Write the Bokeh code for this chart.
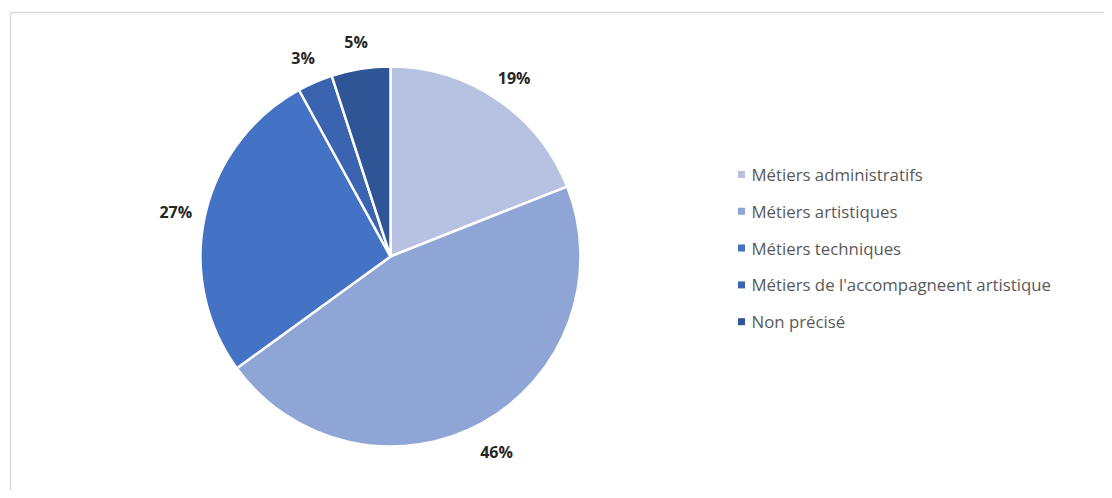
import math
from bokeh.plotting import figure
from bokeh.models import ColumnDataSource
from bokeh.core.properties import value
from bokeh.embed import file_html
from bokeh.resources import INLINE

categories = ["Métiers administratifs", "Métiers artistiques", "Métiers techniques",
              "Métiers de l'accompagneent artistique", "Non précisé"]
percents = [19, 46, 27, 3, 5]
colors = ["#B7C2E2", "#8FA5D6", "#4472C4", "#3B64B0", "#2F5597"]

W, H = 1104, 490
p = figure(width=W, height=H, x_range=(0, W), y_range=(0, H), output_backend="svg",
           toolbar_location=None, x_axis_type=None, y_axis_type=None,
           min_border=0, min_border_left=0, min_border_right=0, min_border_top=0, min_border_bottom=0)
p.outline_line_color = None
p.grid.visible = False
p.background_fill_color = "white"

# chart-area border (top and left edges visible)
p.line([10, W], [478, 478], line_color="#d9d9d9", line_width=1.5)
p.line([10, 10], [0, 478], line_color="#d9d9d9", line_width=1.5)

cx, cy, r = 390, 234, 190
total = sum(percents)
starts, ends, mids = [], [], []
acc = 0.0
for v in percents:
    a0 = math.pi / 2 - 2 * math.pi * acc / total
    acc += v
    a1 = math.pi / 2 - 2 * math.pi * acc / total
    starts.append(a0)
    ends.append(a1)
    mids.append((a0 + a1) / 2)

src = ColumnDataSource(dict(start=starts, end=ends, color=colors))
p.wedge(x=cx, y=cy, radius=r, start_angle="start", end_angle="end", direction="clock",
        fill_color="color", line_color="white", line_width=2.5, source=src)

lr = 220
ly_off = -3
lab = ColumnDataSource(dict(
    x=[cx + lr * math.cos(m) for m in mids],
    y=[cy + ly_off + lr * math.sin(m) for m in mids],
    t=[f"{v}%" for v in percents]))
p.text(x="x", y="y", text="t", source=lab, text_font=value("Open Sans"),
       text_font_style="bold", text_font_size="16px", text_color="#262626",
       text_align="center", text_baseline="middle")

# legend
leg_y0 = 490 - 174
step = 36.8
ly = [leg_y0 - i * step for i in range(len(categories))]
leg = ColumnDataSource(dict(x=[741] * len(categories), tx=[751] * len(categories),
                            y=ly, t=categories, color=colors))
p.scatter(x="x", y="y", marker="square", size=7, fill_color="color", line_color=None, source=leg)
p.text(x="tx", y="y", text="t", source=leg, text_font=value("Open Sans"),
       text_font_size="16.8px", text_color="#595959", text_align="left", text_baseline="middle")

open("out.html", "w").write(file_html(p, INLINE))
